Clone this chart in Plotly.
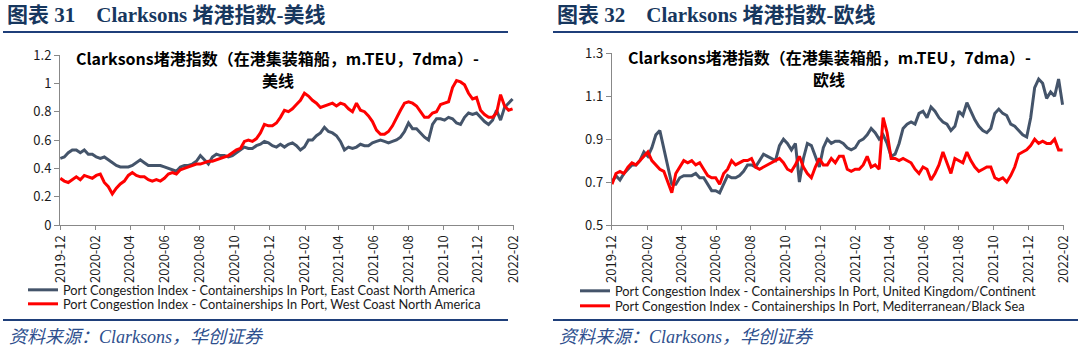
import pandas as pd
import plotly.graph_objects as go

# ---------------- data (weekly readings, m.TEU, 7dma) ----------------
dates = pd.date_range("2019-12-01", periods=114, freq="7D")

us_east = [0.47, 0.48, 0.51, 0.53, 0.53, 0.51, 0.53, 0.50, 0.50, 0.48,
           0.47, 0.48, 0.46, 0.44, 0.42, 0.41, 0.41, 0.41, 0.42, 0.44,
           0.46, 0.44, 0.42, 0.42, 0.42, 0.42, 0.41, 0.40, 0.39, 0.38,
           0.41, 0.42, 0.42, 0.43, 0.45, 0.49, 0.46, 0.43, 0.48, 0.50,
           0.49, 0.49, 0.48, 0.49, 0.51, 0.53, 0.55, 0.54, 0.54, 0.56,
           0.57, 0.59, 0.58, 0.56, 0.55, 0.57, 0.55, 0.57, 0.58, 0.56,
           0.53, 0.55, 0.60, 0.60, 0.63, 0.65, 0.69, 0.66, 0.65, 0.63,
           0.59, 0.53, 0.55, 0.54, 0.55, 0.57, 0.56, 0.56, 0.58, 0.59,
           0.60, 0.59, 0.58, 0.59, 0.60, 0.62, 0.66, 0.72, 0.68, 0.68,
           0.65, 0.62, 0.60, 0.71, 0.75, 0.75, 0.74, 0.76, 0.75, 0.72,
           0.71, 0.76, 0.79, 0.78, 0.79, 0.76, 0.73, 0.71, 0.74, 0.81,
           0.74, 0.83, 0.86, 0.89]

us_west = [0.33, 0.31, 0.30, 0.32, 0.34, 0.32, 0.35, 0.34, 0.33, 0.35,
           0.36, 0.30, 0.27, 0.22, 0.26, 0.29, 0.31, 0.35, 0.37, 0.35,
           0.34, 0.34, 0.32, 0.31, 0.32, 0.31, 0.33, 0.36, 0.37, 0.36,
           0.39, 0.40, 0.41, 0.42, 0.43, 0.43, 0.44, 0.45, 0.45, 0.46,
           0.47, 0.48, 0.49, 0.51, 0.53, 0.54, 0.59, 0.60, 0.59, 0.61,
           0.65, 0.71, 0.70, 0.70, 0.72, 0.76, 0.81, 0.80, 0.82, 0.85,
           0.88, 0.93, 0.91, 0.88, 0.86, 0.83, 0.84, 0.85, 0.86, 0.84,
           0.86, 0.85, 0.82, 0.80, 0.86, 0.81, 0.80, 0.77, 0.73, 0.67,
           0.64, 0.64, 0.66, 0.70, 0.76, 0.81, 0.86, 0.87, 0.86, 0.84,
           0.80, 0.76, 0.76, 0.79, 0.80, 0.85, 0.86, 0.87, 0.97, 1.02,
           1.01, 0.99, 0.93, 0.89, 0.90, 0.81, 0.78, 0.76, 0.76, 0.79,
           0.92, 0.84, 0.81, 0.82]

eu_uk = [0.70, 0.73, 0.71, 0.74, 0.76, 0.78, 0.78, 0.80, 0.84, 0.82,
         0.86, 0.92, 0.94, 0.86, 0.77, 0.69, 0.69, 0.72, 0.73, 0.73,
         0.73, 0.74, 0.72, 0.72, 0.69, 0.66, 0.66, 0.65, 0.69, 0.73,
         0.72, 0.72, 0.73, 0.75, 0.78, 0.78, 0.77, 0.80, 0.83, 0.82,
         0.81, 0.80, 0.87, 0.90, 0.88, 0.85, 0.88, 0.70, 0.81, 0.88,
         0.87, 0.82, 0.77, 0.86, 0.90, 0.88, 0.89, 0.89, 0.88, 0.86,
         0.85, 0.86, 0.89, 0.90, 0.92, 0.95, 0.93, 0.90, 0.92, 0.88,
         0.82, 0.83, 0.88, 0.95, 0.97, 0.98, 0.97, 1.02, 1.03, 1.00,
         1.05, 1.03, 1.00, 0.98, 0.97, 0.94, 0.96, 1.03, 1.01, 1.07,
         1.03, 0.99, 0.96, 0.94, 0.93, 0.95, 1.02, 1.04, 1.02, 1.01,
         0.97, 0.96, 0.94, 0.92, 0.91, 1.00, 1.14, 1.18, 1.16, 1.09,
         1.12, 1.10, 1.18, 1.06]

eu_med = [0.69, 0.74, 0.75, 0.74, 0.77, 0.79, 0.78, 0.80, 0.82, 0.84,
          0.80, 0.78, 0.76, 0.75, 0.70, 0.65, 0.74, 0.77, 0.80, 0.79,
          0.80, 0.78, 0.79, 0.76, 0.73, 0.72, 0.72, 0.69, 0.74, 0.76,
          0.80, 0.78, 0.79, 0.80, 0.80, 0.81, 0.77, 0.76, 0.77, 0.78,
          0.79, 0.80, 0.81, 0.79, 0.76, 0.75, 0.78, 0.82, 0.77, 0.74,
          0.72, 0.77, 0.81, 0.78, 0.78, 0.81, 0.79, 0.82, 0.82, 0.76,
          0.75, 0.76, 0.76, 0.78, 0.82, 0.77, 0.78, 0.76, 1.00, 0.93,
          0.81, 0.81, 0.80, 0.81, 0.80, 0.79, 0.76, 0.74, 0.77, 0.76,
          0.71, 0.74, 0.78, 0.84, 0.79, 0.74, 0.81, 0.80, 0.79, 0.84,
          0.80, 0.77, 0.75, 0.76, 0.77, 0.77, 0.72, 0.71, 0.72, 0.70,
          0.73, 0.77, 0.83, 0.84, 0.85, 0.87, 0.90, 0.88, 0.89, 0.88,
          0.88, 0.90, 0.85, 0.85]

tick_dates = pd.date_range("2019-12-01", "2022-02-01", freq="2MS")

names = {
    "us_east": "Port Congestion Index - Containerships In Port, East Coast North America",
    "us_west": "Port Congestion Index - Containerships In Port, West Coast North America",
    "eu_uk": "Port Congestion Index - Containerships In Port, United Kingdom/Continent",
    "eu_med": "Port Congestion Index - Containerships In Port, Mediterranean/Black Sea",
}

GRAY = "#44546A"
RED = "#FF0000"
NAVY = "#1F3F7A"
W, H = 1080, 351

def px(v):
    return v / W

def py(v):
    return 1 - v / H

TICKFONT = dict(family="Noto Sans CJK SC, Open Sans, sans-serif", size=13, color="#1a1a1a")
LEGFONT = dict(family="Lato, Noto Sans CJK SC, sans-serif", size=12.8, color="#1a1a1a")

fig = go.Figure()
fig.add_trace(go.Scatter(x=dates, y=us_east, mode="lines", name=names["us_east"],
                         line=dict(color=GRAY, width=3), xaxis="x", yaxis="y", legend="legend"))
fig.add_trace(go.Scatter(x=dates, y=us_west, mode="lines", name=names["us_west"],
                         line=dict(color=RED, width=3), xaxis="x", yaxis="y", legend="legend2"))
fig.add_trace(go.Scatter(x=dates, y=eu_uk, mode="lines", name=names["eu_uk"],
                         line=dict(color=GRAY, width=3), xaxis="x2", yaxis="y2", legend="legend3"))
fig.add_trace(go.Scatter(x=dates, y=eu_med, mode="lines", name=names["eu_med"],
                         line=dict(color=RED, width=3), xaxis="x2", yaxis="y2", legend="legend4"))

xcommon = dict(type="date", range=["2019-11-30 12:00", "2022-02-01 12:00"],
               tickvals=list(tick_dates), tickformat="%Y-%m", tickangle=-90,
               ticks="outside", ticklen=4, tickcolor="#888888", showline=True,
               linecolor="#888888", linewidth=1, showgrid=False, zeroline=False,
               tickfont=TICKFONT, automargin=False)
ycommon = dict(ticks="outside", ticklen=5, tickcolor="#888888", showline=True,
               linecolor="#888888", linewidth=1, showgrid=False, zeroline=False,
               tickfont=TICKFONT, automargin=False)

def leg(x, y):
    return dict(x=px(x), y=py(y), xanchor="left", yanchor="middle", font=LEGFONT,
                bgcolor="rgba(0,0,0,0)", borderwidth=0, itemwidth=30)

fig.update_layout(
    width=W, height=H, margin=dict(l=0, r=0, t=0, b=0),
    paper_bgcolor="white", plot_bgcolor="white", showlegend=True,
    xaxis=dict(domain=[px(60), px(514)], anchor="y", **xcommon),
    yaxis=dict(domain=[py(225), py(55)], anchor="x", range=[0, 1.2], dtick=0.2, tick0=0, **ycommon),
    xaxis2=dict(domain=[px(611.7), px(1064)], anchor="y2", **xcommon),
    yaxis2=dict(domain=[py(225), py(53.3)], anchor="x2", range=[0.5, 1.3], dtick=0.2, tick0=0.5, **ycommon),
    legend=leg(23, 290),
    legend2=leg(23, 304),
    legend3=leg(575, 291),
    legend4=leg(575, 306),
)

HEADFONT = dict(family="Liberation Serif, Noto Sans CJK SC, serif", size=21, color="#17375E", weight="bold")
TITLEFONT = dict(family="Noto Sans CJK SC, sans-serif", size=16, color="#000000", weight="bold")
FOOTFONT = dict(family="Liberation Serif, Noto Sans CJK SC, serif", size=18, color="#2E4F8E", style="italic")

title_line1 = "Clarksons堵港指数（在港集装箱船，m.TEU，7dma）-"

ann = [
    dict(text="图表 31&nbsp;&nbsp;&nbsp;&nbsp;Clarksons 堵港指数-美线", x=px(5), y=py(15), font=HEADFONT,
         xanchor="left", yanchor="middle"),
    dict(text="图表 32&nbsp;&nbsp;&nbsp;&nbsp;Clarksons 堵港指数-欧线", x=px(555), y=py(15), font=HEADFONT,
         xanchor="left", yanchor="middle"),
    dict(text=title_line1, x=px(277), y=py(58), font=TITLEFONT, xanchor="center", yanchor="middle"),
    dict(text="美线", x=px(278), y=py(80), font=TITLEFONT, xanchor="center", yanchor="middle"),
    dict(text=title_line1, x=px(829), y=py(57), font=TITLEFONT, xanchor="center", yanchor="middle"),
    dict(text="欧线", x=px(829), y=py(79), font=TITLEFONT, xanchor="center", yanchor="middle"),
    dict(text="资料来源：Clarksons，华创证券", x=px(7), y=py(337), font=FOOTFONT,
         xanchor="left", yanchor="middle"),
    dict(text="资料来源：Clarksons，华创证券", x=px(557), y=py(337), font=FOOTFONT,
         xanchor="left", yanchor="middle"),
]
for a in ann:
    a.update(xref="paper", yref="paper", showarrow=False, align="center")
fig.update_layout(annotations=ann)

shapes = []
for x0, x1 in [(3, 508), (553, 1078)]:
    for yy in [32, 320]:
        shapes.append(dict(type="line", xref="paper", yref="paper", x0=px(x0), x1=px(x1),
                           y0=py(yy), y1=py(yy), line=dict(color=NAVY, width=2)))
fig.update_layout(shapes=shapes)

fig.write_html("out.html")
